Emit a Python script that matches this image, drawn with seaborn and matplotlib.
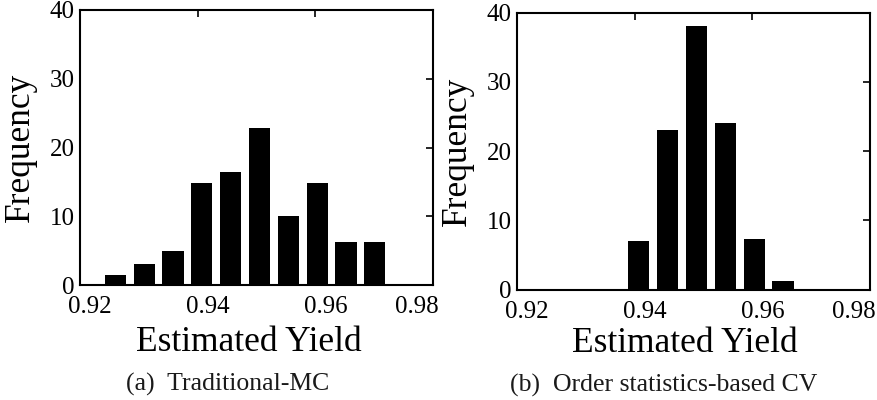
import matplotlib
matplotlib.use("Agg")
import numpy as np
import pandas as pd
import seaborn as sns
import matplotlib.pyplot as plt
from matplotlib.transforms import ScaledTranslation

# Histogram bins of the estimated yield (bin centres shared by both panels)
bin_centers = [0.9260, 0.9309, 0.9358, 0.9407, 0.9456, 0.9505, 0.9554, 0.9603, 0.9652, 0.9701]
counts_mc = [1.5, 3.1, 4.9, 14.9, 16.4, 22.9, 10.0, 14.9, 6.2, 6.2]
counts_cv = [0, 0, 0, 7.0, 23.1, 38.0, 24.1, 7.3, 1.2, 0]
bin_width = 0.0049

xticks = [0.92, 0.94, 0.96, 0.98]
yticks = [0, 10, 20, 30, 40]
xlabel = "Estimated Yield"
ylabel = "Frequency"
captions = ["(a)  Traditional-MC", "(b)  Order statistics-based CV"]

sns.set_theme(style="white", rc={
    "axes.edgecolor": "black", "axes.labelcolor": "black", "text.color": "black",
    "xtick.color": "black", "ytick.color": "black", "axes.linewidth": 1.5,
})
plt.rcParams["font.family"] = ["Liberation Serif", "DejaVu Serif"]

W, H = 877, 400
fig = plt.figure(figsize=(W / 100, H / 100), dpi=100)


def add_axes(left, top, width, height):
    return fig.add_axes([left / W, 1 - (top + height) / H, width / W, height / H])


bin_range = (bin_centers[0] - bin_width / 2, bin_centers[-1] + bin_width / 2)

panels = [
    dict(box=(80, 10, 353, 275), counts=counts_mc, xlab=(0.479, -0.24), cap=(227.5, 391)),
    dict(box=(517, 12.5, 353, 277), counts=counts_cv, xlab=(0.476, -0.2256), cap=(664, 392)),
]
label_shift_px = [10, 10, 10, -16]

for panel, caption in zip(panels, captions):
    ax = add_axes(*panel["box"])
    df = pd.DataFrame({"yield": bin_centers, "count": panel["counts"]})
    sns.histplot(data=df, x="yield", weights="count", bins=len(bin_centers),
                 binrange=bin_range, shrink=0.735,
                 color="black", edgecolor="black", linewidth=0, alpha=1, ax=ax)
    ax.set_xlim(0.92, 0.98)
    ax.set_ylim(0, 40)
    ax.set_xticks(xticks)
    ax.set_xticklabels([f"{t:.2f}" for t in xticks])
    ax.set_yticks(yticks)
    ax.tick_params(direction="in", length=5, width=1.2, top=True, right=True,
                   labelsize=18, pad=4)
    ax.tick_params(axis="x", pad=8)
    for sp in ax.spines.values():
        sp.set_visible(True)
        sp.set_color("black")
        sp.set_linewidth(1.5)

    ax.set_xlabel(xlabel, fontsize=25.5)
    ax.xaxis.set_label_coords(*panel["xlab"])
    ax.xaxis.label.set_va("baseline")
    ax.set_ylabel(ylabel, fontsize=25.5)
    ax.yaxis.set_label_coords(-0.122, 0.5)

    fig.canvas.draw()
    for lab, dx in zip(ax.get_xticklabels(), label_shift_px):
        lab.set_transform(lab.get_transform() + ScaledTranslation(dx / 100, 0, fig.dpi_scale_trans))

    cx, cy = panel["cap"]
    fig.text(cx / W, 1 - cy / H, caption, ha="center", va="baseline", fontsize=18.5,
             color="#1a1a1a")

fig.savefig("out.png", dpi=100)
